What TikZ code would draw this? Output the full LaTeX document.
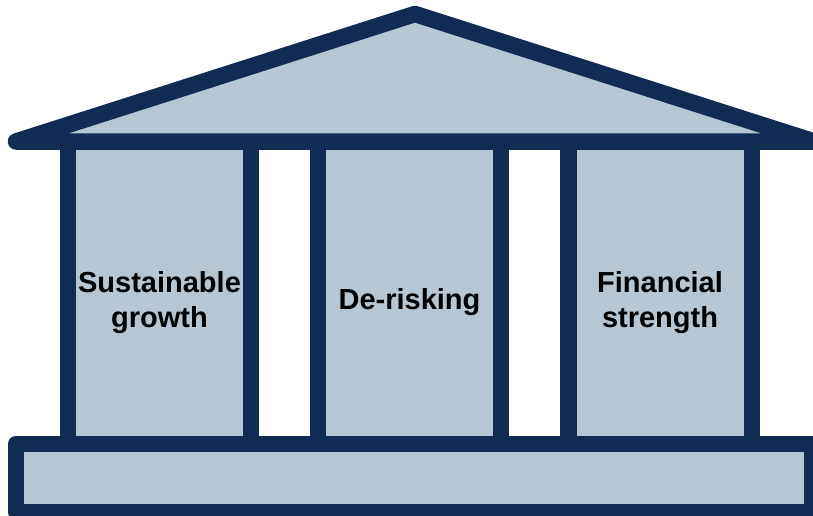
\documentclass[tikz,border=0pt]{standalone}
\usepackage{fontspec}
\setmainfont{Liberation Sans}
\definecolor{navy}{HTML}{122B52}
\definecolor{stone}{HTML}{B7C6D3}
\begin{document}
\begin{tikzpicture}[x=1pt,y=-1pt,
  part/.style={draw=navy,fill=stone,line width=16.5pt},
  label/.style={font=\bfseries\fontsize{29}{35.5}\selectfont,text=black,align=center}]
\useasboundingbox (0,0) rectangle (813,516);
\clip (0,0) rectangle (813,516);
% the three columns
\draw[part] (68,141) rectangle (251,444);
\draw[part] (318,141) rectangle (501,444);
\draw[part] (568.5,141) rectangle (752,444);
% roof
\draw[part,line join=round] (16,141.5) -- (415,14) -- (814,141.5) -- cycle;
% base
\draw[part,line join=round] (16,444) rectangle (812,512);
% column labels
\node[label] (growth) at (159.5,302.5) {Sustainable\\growth};
\node[label] (derisk) at (409.5,302) {De-risking};
\node[label] (strength) at (660,302.5) {Financial\\strength};
\end{tikzpicture}
\end{document}
